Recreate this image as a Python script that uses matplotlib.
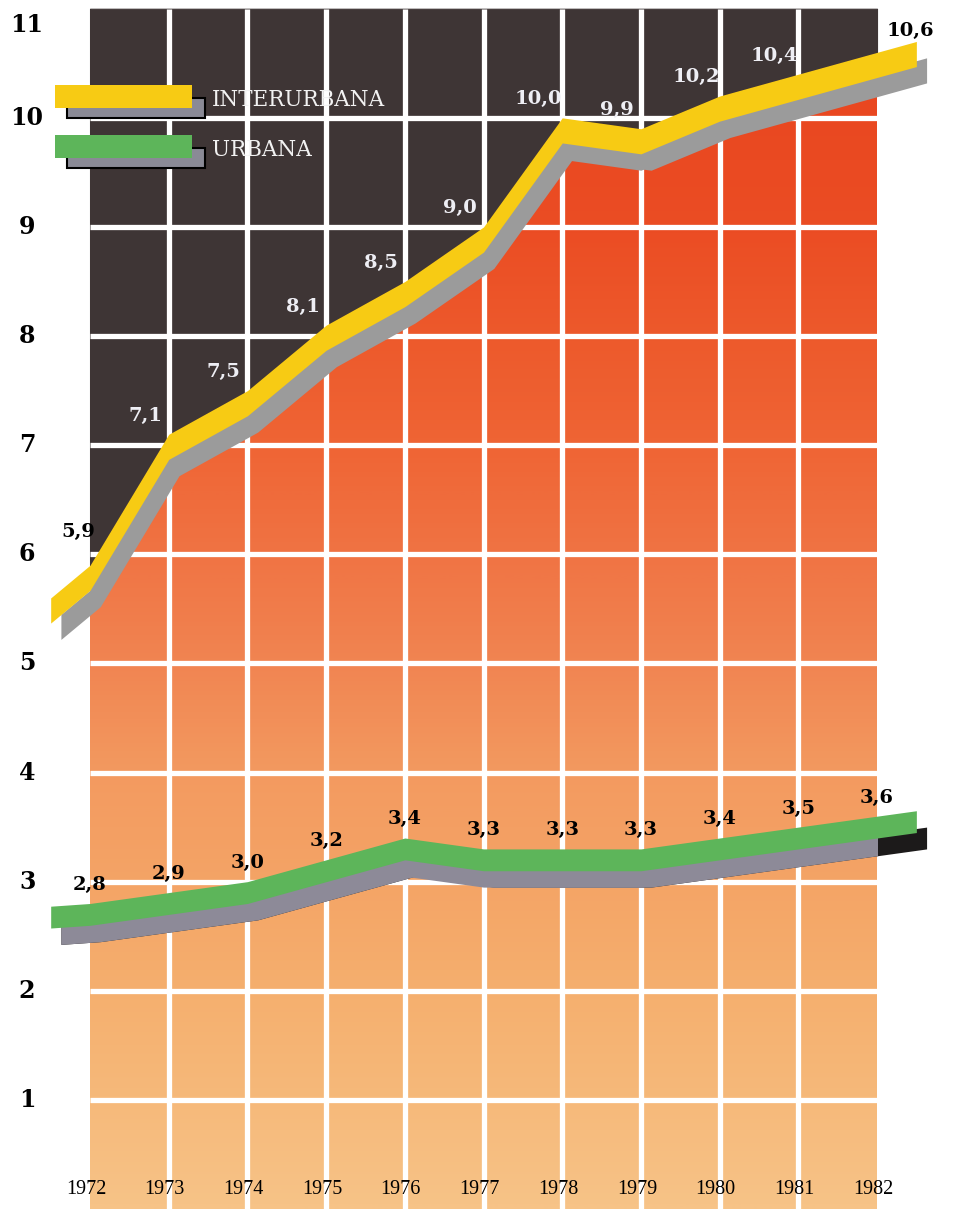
import numpy as np
import matplotlib
matplotlib.use("Agg")
import matplotlib.pyplot as plt
from matplotlib.colors import LinearSegmentedColormap
from matplotlib.patches import Rectangle

# data
years = [1972, 1973, 1974, 1975, 1976, 1977, 1978, 1979, 1980, 1981, 1982]
interurbana = [5.9, 7.1, 7.5, 8.1, 8.5, 9.0, 10.0, 9.9, 10.2, 10.4, 10.6]
urbana = [2.8, 2.9, 3.0, 3.2, 3.4, 3.3, 3.3, 3.3, 3.4, 3.5, 3.6]
y_ticks = [1, 2, 3, 4, 5, 6, 7, 8, 9, 10, 11]
labels_inter = ["5,9", "7,1", "7,5", "8,1", "8,5", "9,0", "10,0", "9,9", "10,2", "10,4", "10,6"]
labels_urb = ["2,8", "2,9", "3,0", "3,2", "3,4", "3,3", "3,3", "3,3", "3,4", "3,5", "3,6"]

dark = '#3e3535'
yellow = '#f7cb14'
yellow_shadow = '#9b9b9b'
green = '#5db55a'
green_shadow = '#8d8a98'

fig = plt.figure(figsize=(9.62, 12.09), dpi=100)
ax = fig.add_axes([0, 0, 1, 1])
ax.set_xlim(1970.856, 1983.08)
ax.set_ylim(0, 11.08)
ax.axis('off')

x0, x1 = years[0], years[-1]
ytop = y_ticks[-1]

# orange background gradient
stops = [(0, '#f7c387'), (1, '#f6b97a'), (2, '#f5af6e'), (3, '#f4a466'),
         (4, '#f39a60'), (5, '#f18552'), (6, '#f07444'), (7, '#ef6535'),
         (8, '#ed5a2c'), (9, '#eb4d24'), (11, '#e8441e')]
cmap = LinearSegmentedColormap.from_list('bg', [(v / 11, c) for v, c in stops])
grad = np.linspace(0, 1, 600)[:, None]
ax.imshow(grad, cmap=cmap, origin='lower', extent=[x0, x1, 0, ytop - 0.05],
          aspect='auto', zorder=0, vmin=0, vmax=1)

# dark area above the interurban line
ax.fill_between(years, interurbana, ytop, facecolor=dark, edgecolor=dark,
                lw=0.8, zorder=1)

# white grid
for yv in y_ticks[:-1]:
    ax.hlines(yv, x0, x1, color='white', lw=3.8, zorder=2)
for xv in years[1:-1]:
    ax.vlines(xv, 0, ytop, color='white', lw=3.8, zorder=2)


def band(vals, thick, color, shadow, shadow_end=None):
    v = np.array(vals, dtype=float)
    x = np.array(years, dtype=float)
    # half a year beyond both ends
    xe = np.concatenate([[x[0] - 0.5], x, [x[-1] + 0.5]])
    ye = np.concatenate([[v[0] - 0.25 * (v[1] - v[0])], v,
                         [v[-1] + 0.5 * (v[-1] - v[-2])]])
    dx, dy = 0.13, 0.15
    parts = []
    if shadow_end is not None:
        ax.fill_between(xe + dx, ye - dy, ye - dy - thick, color=shadow_end,
                        zorder=3, lw=0)
    # shifted shadow plus a strip right under the band so no gap shows
    parts.append(ax.fill_between(xe + dx, ye - dy, ye - dy - thick,
                                 color=shadow, zorder=3, lw=0))
    parts.append(ax.fill_between(x, v - thick / 2, v - thick - dy,
                                 color=shadow, zorder=3, lw=0))
    if shadow_end is not None:
        for p in parts:
            p.set_clip_path(Rectangle((1970, 0), x1 - 1970, 12,
                                      transform=ax.transData))
    ax.fill_between(xe, ye, ye - thick, color=color, zorder=4, lw=0)


band(interurbana, 0.23, yellow, yellow_shadow)
band(urbana, 0.2, green, green_shadow, shadow_end='#1c1a1a')

# value labels
lab_font = dict(family='DejaVu Serif', fontweight='bold', fontsize=14,
                ha='center', va='center', zorder=6)
n = len(years)
for i in range(n):
    if i == 0:
        xx, yy, col = years[i] - 0.15, interurbana[i] + 0.3, 'black'
    elif i == n - 1:
        xx, yy, col = years[i] + 0.42, interurbana[i] + 0.2, 'black'
    else:
        xx, yy, col = years[i] - 0.3, interurbana[i] + 0.17, '#eeeef4'
    ax.text(xx, yy, labels_inter[i], color=col, **lab_font)
    ax.text(years[i], urbana[i] + 0.17, labels_urb[i], color='black', **lab_font)

# y axis numbers
for yv in y_ticks:
    ax.text(1971.2, min(yv, 10.85), str(yv), family='DejaVu Serif',
            fontweight='bold', fontsize=17, ha='center', va='center', zorder=6)

# year labels
for yr in years:
    ax.text(yr - 0.05, 0.18, str(yr), family='Liberation Serif', fontsize=14.5,
            ha='center', va='center', zorder=6)

# legend
T = ax.transAxes
leg = [(yellow, 'INTERURBANA', 0.9297), (green, 'URBANA', 0.8883)]
for col, name, top in leg:
    ax.add_patch(Rectangle((0.0697, top - 0.0273), 0.1434, 0.0165,
                           transform=T, facecolor='#8a8a96', edgecolor='black',
                           lw=1.5, zorder=7))
    ax.add_patch(Rectangle((0.057, top - 0.019), 0.143, 0.019,
                           transform=T, facecolor=col, edgecolor='none', zorder=8))
    ax.text(0.2204, top - 0.0124, name, transform=T, family='DejaVu Serif',
            fontsize=15.5, color='#f2f2f2', ha='left', va='center', zorder=8)

fig.savefig('out.png', dpi=100)
